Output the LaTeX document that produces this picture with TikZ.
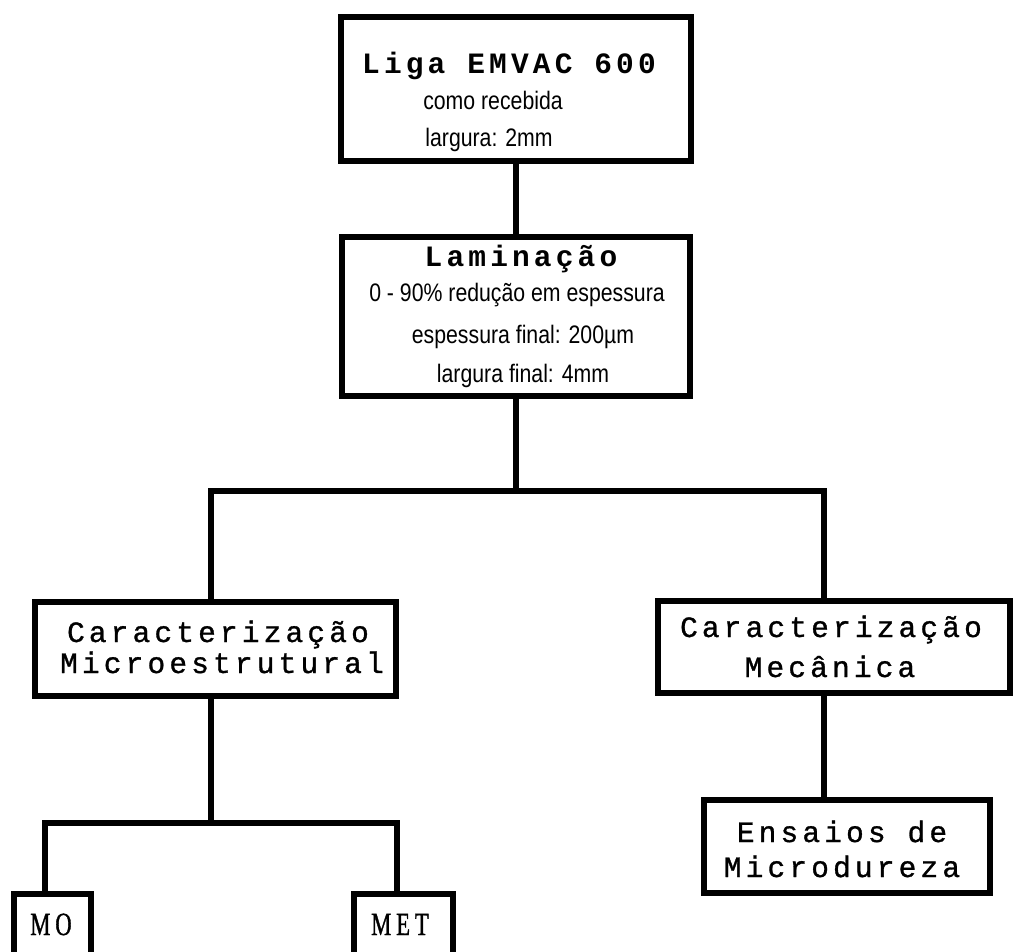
\documentclass[tikz,border=0pt]{standalone}
\usepackage{fontspec}
\newfontfamily\boxmono{Liberation Mono}[LetterSpace=14, FakeBold=1]
\newfontfamily\boxmonobold{Liberation Mono Bold}[LetterSpace=14]
\newfontfamily\boxsans{Liberation Sans}[FakeStretch=0.84]
\newfontfamily\boxserif{Liberation Serif}[FakeStretch=0.7, LetterSpace=15, FakeBold=1]
\usepackage{tikz}
\usetikzlibrary{calc}
\tikzset{>=latex}
\tikzset{frame/.style 2 args = {draw, line width = 4.2pt, inner sep = 0pt, minimum width = #1, minimum height = #2},
  link/.style = {line width = 4.2pt},
  head/.style = {anchor = base, inner sep = 0pt, font = \boxmono\fontsize{21}{21}\selectfont},
  title/.style = {anchor = base, inner sep = 0pt, font = \boxmonobold\fontsize{21}{21}\selectfont},
  note/.style = {anchor = base, inner sep = 0pt, font = \boxsans\fontsize{18}{18}\selectfont},
  tag/.style = {anchor = base, inner sep = 0pt, font = \boxserif\fontsize{23}{23}\selectfont}}

\begin{document}
\begin{tikzpicture}[x = 0.025cm, y = -0.025cm]
\fill[white] (0,0) rectangle (1016,951);
\useasboundingbox (0,0) rectangle (1016,951);

\node[frame = {8.75cm}{3.6cm}] (liga) at (516,89) {};
\node[title] (ligaA) at (509,74) {Liga EMVAC 600};
\node[note] (ligaB) at (493,110) {como recebida};
\node[note] (ligaC) at (489,147) {largura: 2mm};

\node[frame = {8.7cm}{3.975cm}] (lamin) at (516,316.5) {};
\node[title] (laminA) at (521,267) {Laminação};
\node[note] (laminB) at (517,302) {0 - 90\% redução em espessura};
\node[note] (laminC) at (523,343) {espessura final: 200µm};
\node[note] (laminD) at (523,382) {largura final: 4mm};

\node[frame = {9.025cm}{2.35cm}] (micro) at (215.5,649) {};
\node[head] (microA) at (218,642) {Caracterização};
\node[head] (microB) at (222,673) {Microestrutural};

\node[frame = {8.8cm}{2.3cm}] (mec) at (834,647) {};
\node[head] (mecA) at (831,637) {Caracterização};
\node[head] (mecB) at (830,677) {Mecânica};

\node[frame = {7.15cm}{2.325cm}] (ensaio) at (847,846.5) {};
\node[head] (ensaioA) at (842,842) {Ensaios de};
\node[head] (ensaioB) at (842,877) {Microdureza};

\node[frame = {1.925cm}{1.65cm}] (mo) at (52.5,927) {};
\node[tag] (moA) at (51,935) {MO};
\node[frame = {2.475cm}{1.65cm}] (met) at (403.5,927) {};
\node[tag] (metA) at (400,935) {MET};

\coordinate (split) at (516,491);
\coordinate (splitL) at (211,491);
\coordinate (splitR) at (824,491);
\coordinate (forkL) at (45,823);
\coordinate (forkR) at (397,823);

\draw[link] (liga.south) -- (lamin.north);
\draw[link] (lamin.south) -- (split);
\draw[link] (micro.north -| splitL) -- (splitL) -- (splitR) -- (mec.north -| splitR);
\draw[link] (micro.south -| splitL) -- (forkL -| splitL);
\draw[link] (mo.north -| forkL) -- (forkL) -- (forkR) -- (met.north -| forkR);
\draw[link] (mec.south -| splitR) -- (ensaio.north -| splitR);
\end{tikzpicture}
\end{document}
